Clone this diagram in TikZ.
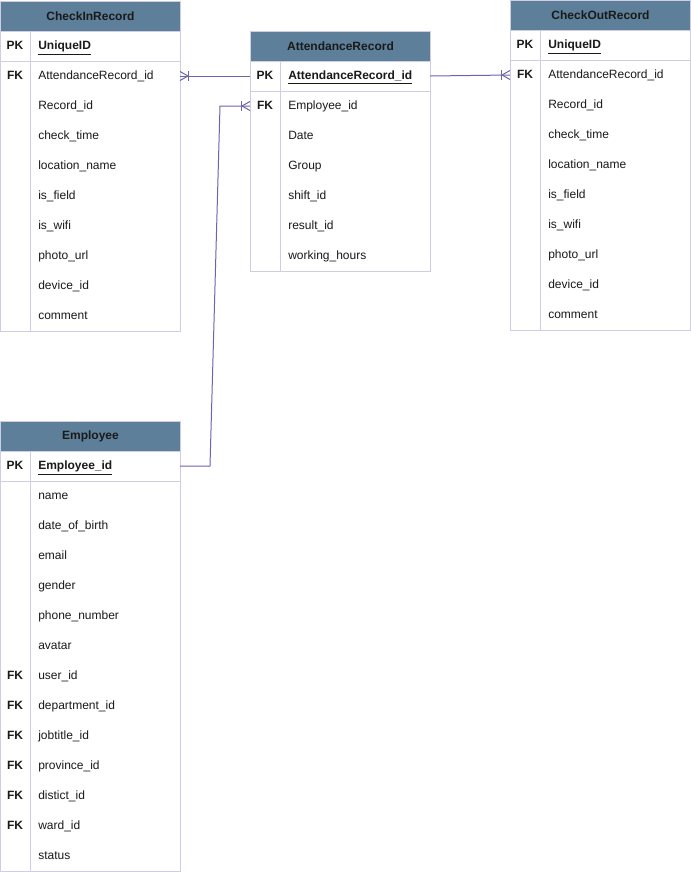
\documentclass[tikz,border=0pt]{standalone}
\usepackage{fontspec}
\setmainfont{Liberation Sans}
\usetikzlibrary{calc}
\definecolor{hdrfill}{HTML}{5D7F99}
\definecolor{bd}{HTML}{D0CCE6}
\definecolor{ln}{HTML}{6964AD}
\definecolor{tx}{HTML}{1A1A1A}
\tikzset{
  x=0.75pt, y=-0.75pt,
  border/.style={draw=bd, line width=0.75pt},
  conn/.style={draw=ln, line width=0.75pt},
  hdrbox/.style={anchor=north west, minimum width=135pt, minimum height=22.5pt, inner sep=0pt,
    fill=hdrfill, draw=bd, line width=0.75pt, font=\bfseries\fontsize{9}{11}\selectfont, text=tx},
  keyc/.style={minimum width=22.5pt, minimum height=22.5pt, inner sep=0pt,
    text height=6.5pt, text depth=1.9pt,
    font=\bfseries\fontsize{9}{11}\selectfont, text=tx},
  fieldc/.style={anchor=west, minimum height=22.5pt, text width=100.5pt, inner xsep=6pt,
    inner ysep=0pt, text height=6.5pt, text depth=1.9pt,
    align=left, font=\fontsize{9}{11}\selectfont, text=tx},
}
% #1 name, #2 x, #3 y, #4 title, #5 pk, #6 number of rows, #7 rows
\newcommand\ertable[7]{%
  \draw[border, fill=white] (#2,#3) rectangle ++(180,60+30*#6);
  \node[hdrbox] (#1-h) at (#2,#3) {#4};
  \draw[border] (#2,#3+60) -- (#2+180,#3+60);
  \draw[border] (#2+30,#3+30) -- (#2+30,#3+60+30*#6);
  \node[keyc] (#1-pkk) at (#2+15,#3+45.5) {PK};
  \node[fieldc, font=\bfseries\fontsize{9}{11}\selectfont] (#1-pk) at (#2+30,#3+45.5) {\underline{#5}};
  \foreach [count=\i] \k/\t in {#7} {
    \node[keyc] (#1-k\i) at (#2+15,#3+45.5+30*\i) {\k};
    \node[fieldc] (#1-r\i) at (#2+30,#3+45.5+30*\i) {\t};
  }%
}
% crow's foot: #1 point, #2 direction sign (+1 = towards right)
\newcommand\crowfoot[2]{%
  \draw[conn] ($(#1)+(0,-4.5)$) -- ($(#1)+(#2*8,0)$) -- ($(#1)+(0,4.5)$);
  \draw[conn] ($(#1)+(#2*8.5,-5)$) -- ($(#1)+(#2*8.5,5)$);
}
\begin{document}
\begin{tikzpicture}
\useasboundingbox (0,0) rectangle (691,872);

\ertable{ci}{0}{1}{CheckInRecord}{UniqueID}{9}{FK/AttendanceRecord\_id, {}/Record\_id, {}/check\_time, {}/location\_name, {}/is\_field, {}/is\_wifi, {}/photo\_url, {}/device\_id, {}/comment}

\ertable{ar}{250}{31}{AttendanceRecord}{AttendanceRecord\_id}{6}{FK/Employee\_id, {}/Date, {}/Group, {}/shift\_id, {}/result\_id, {}/working\_hours}

\ertable{co}{510}{0}{CheckOutRecord}{UniqueID}{9}{FK/AttendanceRecord\_id, {}/Record\_id, {}/check\_time, {}/location\_name, {}/is\_field, {}/is\_wifi, {}/photo\_url, {}/device\_id, {}/comment}

\ertable{emp}{0}{421}{Employee}{Employee\_id}{13}{{}/name, {}/date\_of\_birth, {}/email, {}/gender, {}/phone\_number, {}/avatar, FK/user\_id, FK/department\_id, FK/jobtitle\_id, FK/province\_id, FK/distict\_id, FK/ward\_id, {}/status}

% connectors
\coordinate (c1) at (180,76);
\coordinate (c2) at (250,76);
\draw[conn] (c1) -- (c2);
\crowfoot{c1}{1}

\coordinate (c3) at (430,76);
\coordinate (c4) at (510,75);
\draw[conn] (c3) -- (c4);
\crowfoot{c4}{-1}

\coordinate (b0) at (180,466);
\coordinate (b1) at (210,466);
\coordinate (b2) at (220,106);
\coordinate (b3) at (250,106);
\draw[conn] (b0) -- (b1) -- (b2) -- (b3);
\crowfoot{b3}{-1}
\end{tikzpicture}
\end{document}
